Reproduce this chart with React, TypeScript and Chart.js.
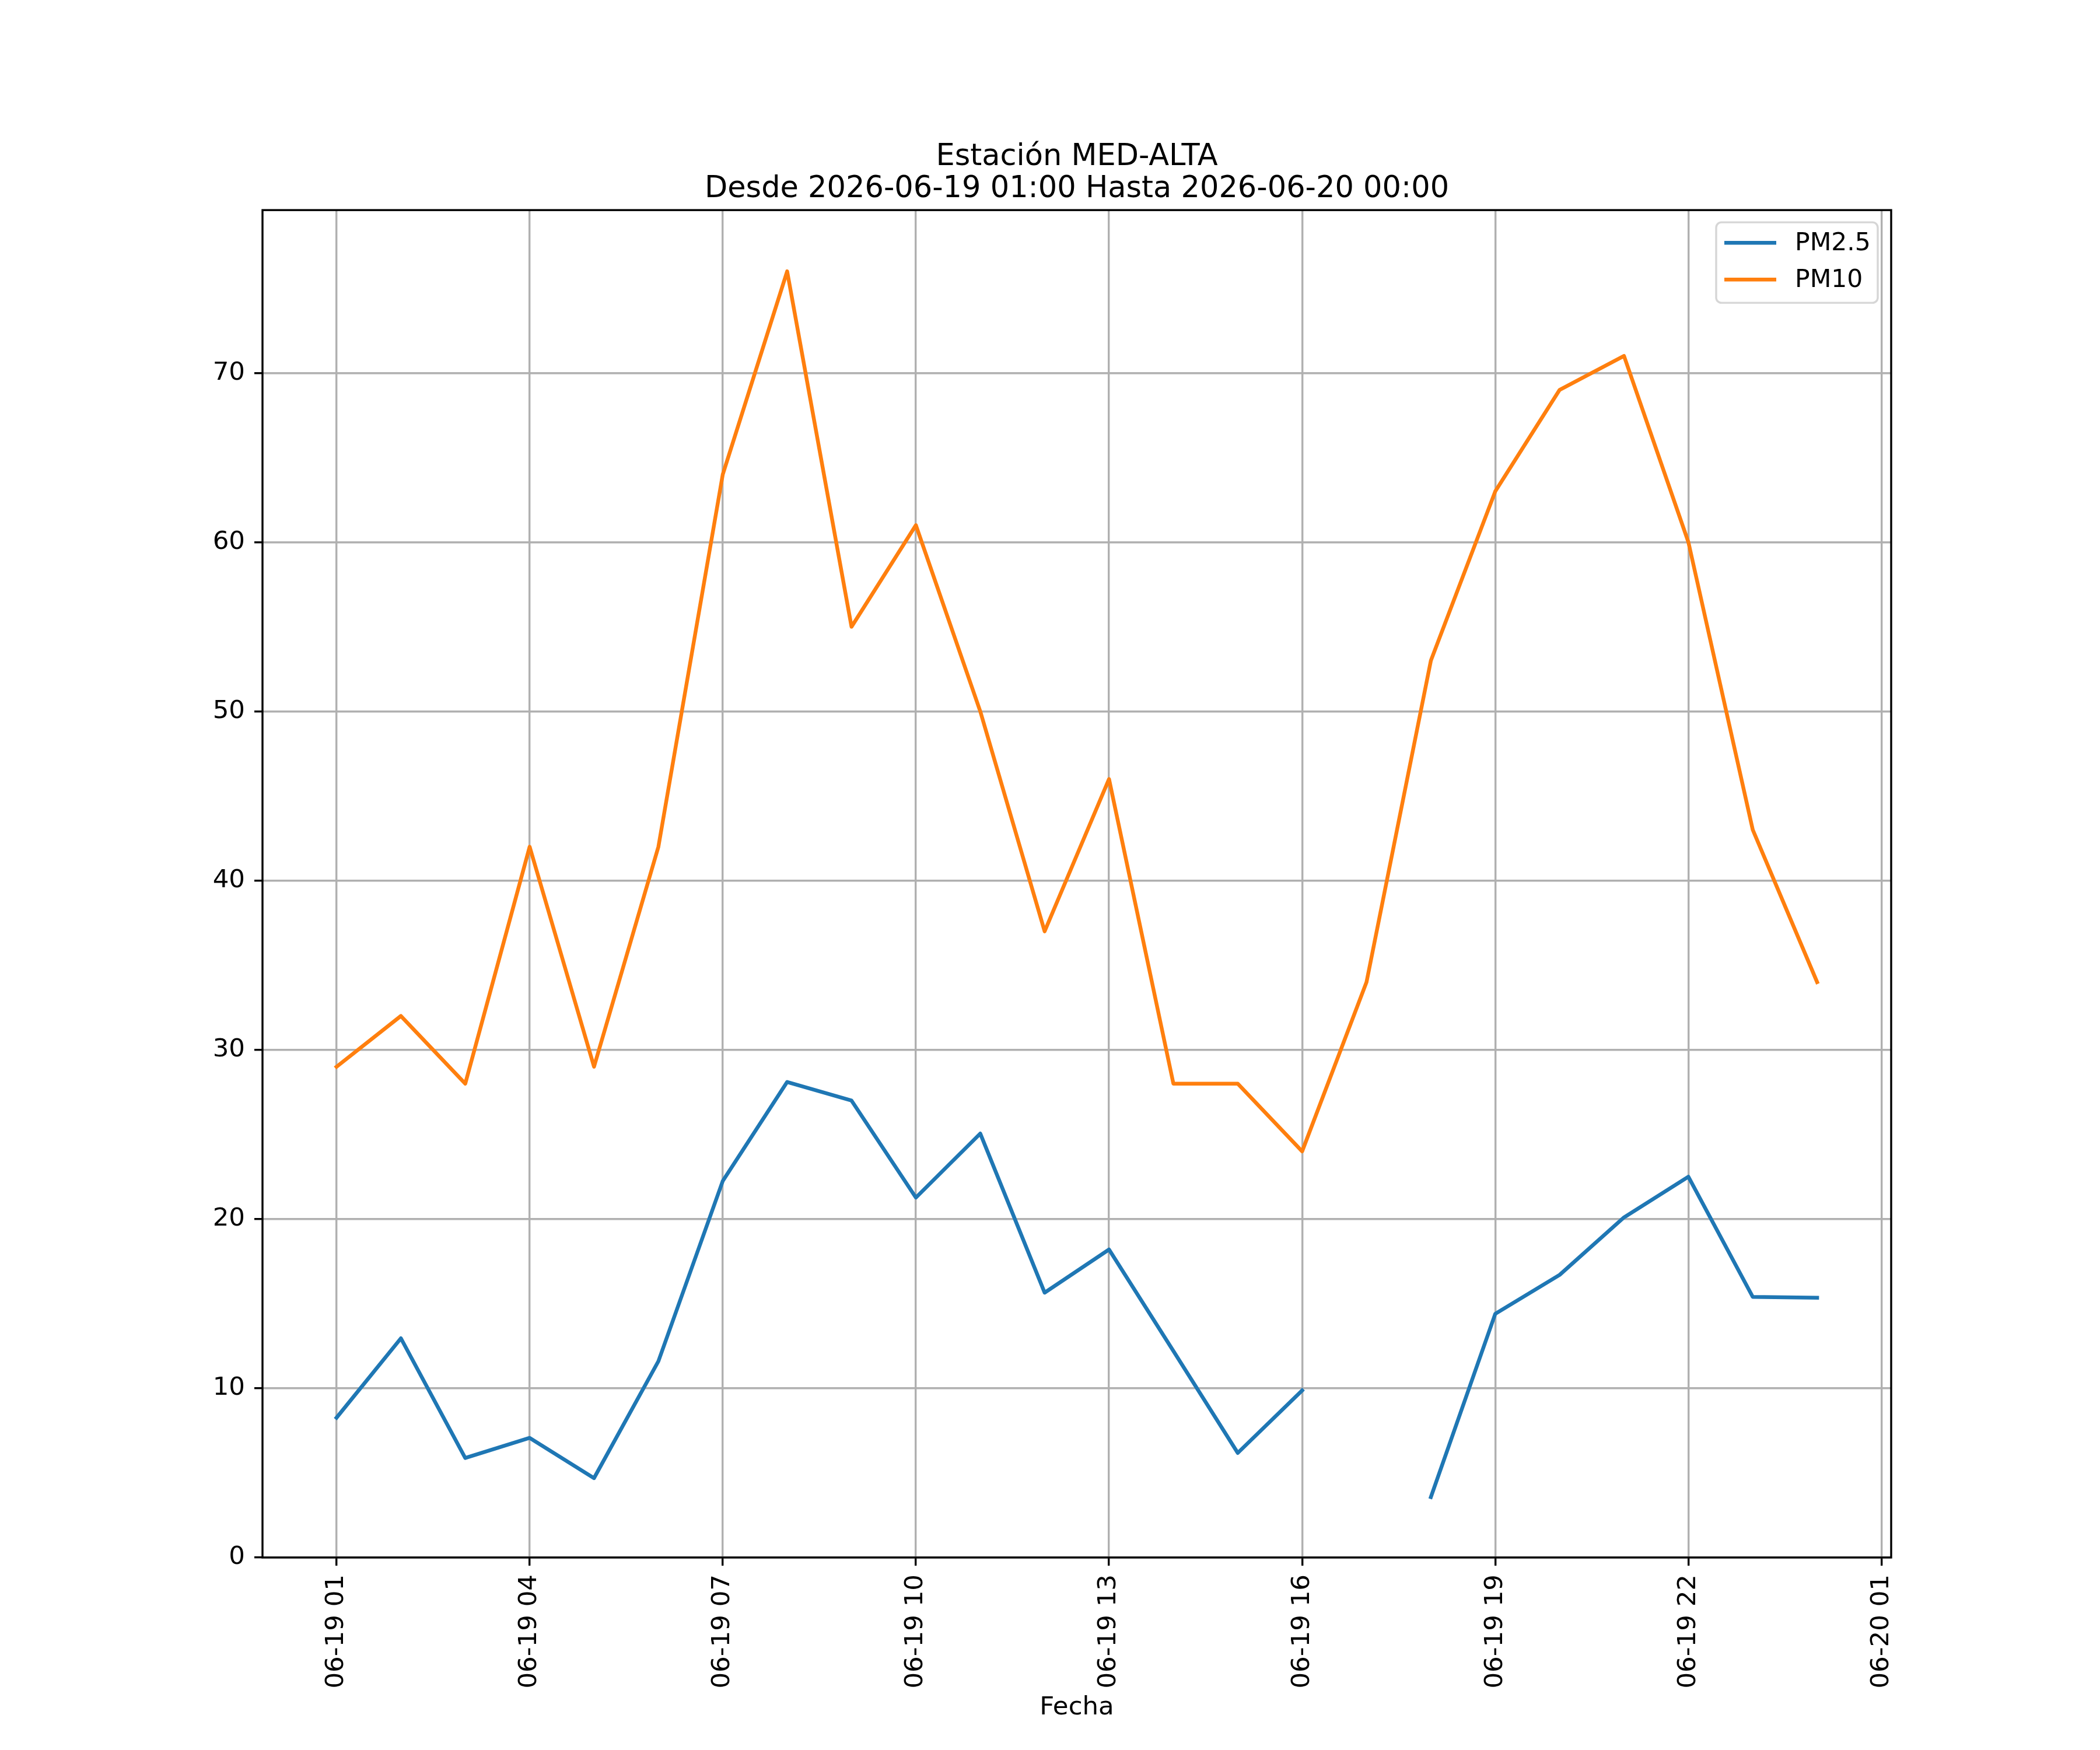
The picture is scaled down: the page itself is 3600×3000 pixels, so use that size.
import { useEffect, useRef } from "react"
import Chart from "chart.js/auto"

// hours after 2026-06-19 01:00
const hourOffsets = [0, 1, 2, 3, 4, 5, 6, 7, 8, 9, 10, 11, 12, 13, 14, 15, 16, 17, 18, 19, 20, 21, 22, 23]
const pm25 = [8.26, 12.95, 5.88, 7.07, 4.69, 11.6, 22.25, 28.1, 27.0, 21.27, 25.05, 15.65, 18.2, 12.2, 6.18, 9.87, null, 3.57, 14.4, 16.7, 20.1, 22.5, 15.4, 15.35]
const pm10 = [29, 32, 28, 42, 29, 42, 64, 76, 55, 61, 50, 37, 46, 28, 28, 24, 34, 53, 63, 69, 71, 60, 43, 34]

const xTickOffsets = [0, 3, 6, 9, 12, 15, 18, 21, 24]
const xTickLabels = ["06-19 01", "06-19 04", "06-19 07", "06-19 10", "06-19 13", "06-19 16", "06-19 19", "06-19 22", "06-20 01"]
const yTicks = [0, 10, 20, 30, 40, 50, 60, 70]

const FONT = "'DejaVu Sans', sans-serif"
const BLUE = "#1f77b4"
const ORANGE = "#ff7f0e"
const GRID = "#b0b0b0"

const framePlugin = {
  id: "frame",
  afterDatasetsDraw(chart) {
    const { ctx, chartArea } = chart
    ctx.save()
    ctx.strokeStyle = "#000"
    ctx.lineWidth = 3.4
    ctx.strokeRect(chartArea.left, chartArea.top, chartArea.right - chartArea.left, chartArea.bottom - chartArea.top)
    ctx.restore()
  },
}

// matplotlib style legend in the upper right corner
const legendPlugin = {
  id: "mplLegend",
  afterDraw(chart) {
    const { ctx, chartArea } = chart
    const w = 277
    const h = 138
    const x = chartArea.right - 23 - w
    const y = chartArea.top + 21
    ctx.save()
    ctx.beginPath()
    ctx.roundRect(x, y, w, h, 9)
    ctx.fillStyle = "rgba(255,255,255,0.8)"
    ctx.fill()
    ctx.strokeStyle = "#d6d6d6"
    ctx.lineWidth = 3.4
    ctx.stroke()
    ctx.font = `42.5px ${FONT}`
    ctx.textBaseline = "middle"
    ctx.textAlign = "left"
    chart.data.datasets.forEach((ds, i) => {
      const rowY = y + 35 + i * 63
      ctx.beginPath()
      ctx.moveTo(x + 14, rowY)
      ctx.lineTo(x + 103, rowY)
      ctx.strokeStyle = ds.borderColor
      ctx.lineWidth = 6.5
      ctx.lineCap = "butt"
      ctx.stroke()
      ctx.fillStyle = "#000"
      ctx.fillText(ds.label, x + 135, rowY + 2)
    })
    ctx.restore()
  },
}

export default function App() {
  const canvasRef = useRef(null)
  const chartRef = useRef(null)

  useEffect(() => {
    if (!canvasRef.current) return
    if (chartRef.current) chartRef.current.destroy()

    chartRef.current = new Chart(canvasRef.current.getContext("2d"), {
      type: "line",
      data: {
        datasets: [
          {
            label: "PM2.5",
            data: hourOffsets.map((h, i) => ({ x: h, y: pm25[i] })),
            borderColor: BLUE,
            backgroundColor: BLUE,
            borderWidth: 6.5,
            pointRadius: 0,
            tension: 0,
            spanGaps: false,
            borderJoinStyle: "round",
            borderCapStyle: "square",
          },
          {
            label: "PM10",
            data: hourOffsets.map((h, i) => ({ x: h, y: pm10[i] })),
            borderColor: ORANGE,
            backgroundColor: ORANGE,
            borderWidth: 6.5,
            pointRadius: 0,
            tension: 0,
            borderJoinStyle: "round",
            borderCapStyle: "square",
          },
        ],
      },
      options: {
        responsive: false,
        animation: false,
        devicePixelRatio: 1,
        layout: { padding: { left: 0, right: 358, top: 0, bottom: 0 } },
        plugins: {
          legend: { display: false },
          tooltip: { enabled: false },
          title: {
            display: true,
            // not full width, so it centres over the plot area like matplotlib
            fullSize: false,
            text: ["Estación MED-ALTA", "Desde 2026-06-19 01:00 Hasta 2026-06-20 00:00"],
            color: "#000",
            font: { family: FONT, size: 51, weight: "normal", lineHeight: 1.08 },
            padding: { top: 242, bottom: 8 },
          },
        },
        scales: {
          x: {
            type: "linear",
            min: -1.15,
            max: 24.15,
            afterBuildTicks: (scale) => {
              scale.ticks = xTickOffsets.map((v) => ({ value: v }))
            },
            afterFit: (scale) => {
              scale.height = 330
            },
            ticks: {
              autoSkip: false,
              minRotation: 90,
              maxRotation: 90,
              padding: 15,
              color: "#000",
              font: { family: FONT, size: 43.5 },
              callback: (value) => xTickLabels[xTickOffsets.indexOf(value)],
            },
            grid: {
              color: GRID,
              lineWidth: 3.4,
              tickColor: "#000",
              tickWidth: 3.4,
              tickLength: 14,
            },
            border: { display: false },
            title: {
              display: true,
              text: "Fecha",
              color: "#000",
              font: { family: FONT, size: 43.5, lineHeight: 1.2 },
              padding: { top: 0, bottom: 46 },
            },
          },
          y: {
            min: 0,
            max: 79.62,
            afterBuildTicks: (scale) => {
              scale.ticks = yTicks.map((v) => ({ value: v }))
            },
            afterFit: (scale) => {
              scale.width = 450
            },
            ticks: {
              padding: 16,
              color: "#000",
              font: { family: FONT, size: 43.5 },
            },
            grid: {
              color: GRID,
              lineWidth: 3.4,
              tickColor: "#000",
              tickWidth: 3.4,
              tickLength: 14,
            },
            border: { display: false },
          },
        },
      },
      plugins: [framePlugin, legendPlugin],
    })

    return () => {
      if (chartRef.current) {
        chartRef.current.destroy()
        chartRef.current = null
      }
    }
  }, [])

  return (
    <div style={{ position: "absolute", left: 0, top: 0, width: 3600, height: 3000, background: "#fff" }}>
      <canvas ref={canvasRef} width={3600} height={3000} style={{ width: 3600, height: 3000 }} />
    </div>
  )
}
